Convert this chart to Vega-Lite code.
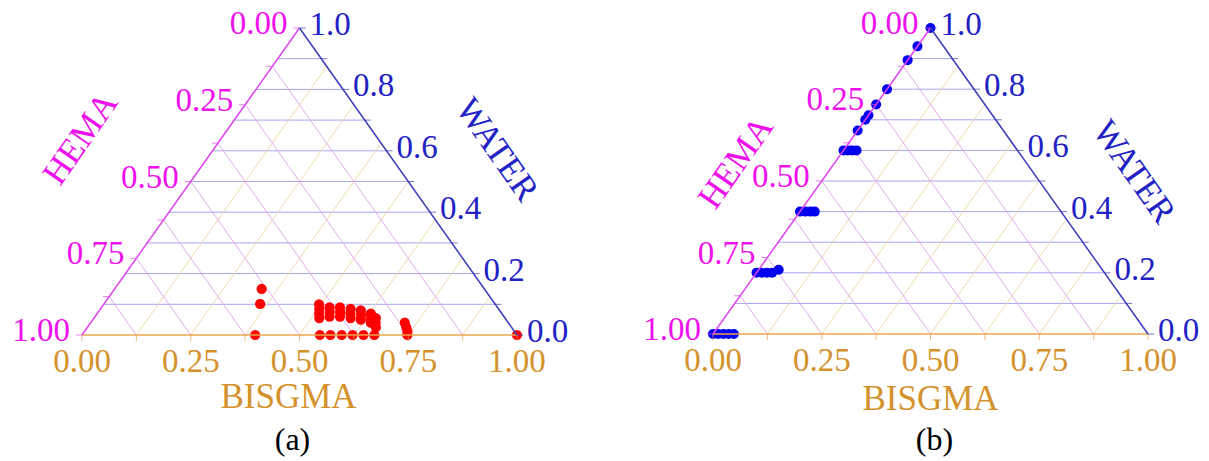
{
  "$schema": "https://vega.github.io/schema/vega-lite/v6.json",
  "padding": 0,
  "spacing": 0,
  "bounds": "flush",
  "config": {"view": {"stroke": null}, "text": {"font": "Liberation Serif"}},
  "datasets": {
    "grid": [
      {"set": "WATER", "b1": 0, "w1": 0.1, "b2": 0.9, "w2": 0.1},
      {"set": "WATER", "b1": 0, "w1": 0.2, "b2": 0.8, "w2": 0.2},
      {"set": "WATER", "b1": 0, "w1": 0.3, "b2": 0.7, "w2": 0.3},
      {"set": "WATER", "b1": 0, "w1": 0.4, "b2": 0.6, "w2": 0.4},
      {"set": "WATER", "b1": 0, "w1": 0.5, "b2": 0.5, "w2": 0.5},
      {"set": "WATER", "b1": 0, "w1": 0.6, "b2": 0.4, "w2": 0.6},
      {"set": "WATER", "b1": 0, "w1": 0.7, "b2": 0.3, "w2": 0.7},
      {"set": "WATER", "b1": 0, "w1": 0.8, "b2": 0.2, "w2": 0.8},
      {"set": "WATER", "b1": 0, "w1": 0.9, "b2": 0.1, "w2": 0.9},
      {"set": "BISGMA", "b1": 0.125, "w1": 0, "b2": 0.125, "w2": 0.875},
      {"set": "BISGMA", "b1": 0.25, "w1": 0, "b2": 0.25, "w2": 0.75},
      {"set": "BISGMA", "b1": 0.375, "w1": 0, "b2": 0.375, "w2": 0.625},
      {"set": "BISGMA", "b1": 0.5, "w1": 0, "b2": 0.5, "w2": 0.5},
      {"set": "BISGMA", "b1": 0.625, "w1": 0, "b2": 0.625, "w2": 0.375},
      {"set": "BISGMA", "b1": 0.75, "w1": 0, "b2": 0.75, "w2": 0.25},
      {"set": "BISGMA", "b1": 0.875, "w1": 0, "b2": 0.875, "w2": 0.125},
      {"set": "HEMA", "b1": 0.875, "w1": 0, "b2": 0, "w2": 0.875},
      {"set": "HEMA", "b1": 0.75, "w1": 0, "b2": 0, "w2": 0.75},
      {"set": "HEMA", "b1": 0.625, "w1": 0, "b2": 0, "w2": 0.625},
      {"set": "HEMA", "b1": 0.5, "w1": 0, "b2": 0, "w2": 0.5},
      {"set": "HEMA", "b1": 0.375, "w1": 0, "b2": 0, "w2": 0.375},
      {"set": "HEMA", "b1": 0.25, "w1": 0, "b2": 0, "w2": 0.25},
      {"set": "HEMA", "b1": 0.125, "w1": 0, "b2": 0, "w2": 0.125}
    ],
    "edges": [
      {"set": "BISGMA", "b1": 0, "w1": 0, "b2": 1, "w2": 0},
      {"set": "HEMA", "b1": 0, "w1": 0, "b2": 0, "w2": 1},
      {"set": "WATER", "b1": 1, "w1": 0, "b2": 0, "w2": 1}
    ],
    "ticks": [
      {"set": "BISGMA", "b": 0, "w": 0}, {"set": "BISGMA", "b": 0.125, "w": 0},
      {"set": "BISGMA", "b": 0.25, "w": 0}, {"set": "BISGMA", "b": 0.375, "w": 0},
      {"set": "BISGMA", "b": 0.5, "w": 0}, {"set": "BISGMA", "b": 0.625, "w": 0},
      {"set": "BISGMA", "b": 0.75, "w": 0}, {"set": "BISGMA", "b": 0.875, "w": 0},
      {"set": "BISGMA", "b": 1, "w": 0},
      {"set": "HEMA", "b": 0, "w": 1}, {"set": "HEMA", "b": 0, "w": 0.875},
      {"set": "HEMA", "b": 0, "w": 0.75}, {"set": "HEMA", "b": 0, "w": 0.625},
      {"set": "HEMA", "b": 0, "w": 0.5}, {"set": "HEMA", "b": 0, "w": 0.375},
      {"set": "HEMA", "b": 0, "w": 0.25}, {"set": "HEMA", "b": 0, "w": 0.125},
      {"set": "HEMA", "b": 0, "w": 0},
      {"set": "WATER", "b": 1, "w": 0}, {"set": "WATER", "b": 0.9, "w": 0.1},
      {"set": "WATER", "b": 0.8, "w": 0.2}, {"set": "WATER", "b": 0.7, "w": 0.3},
      {"set": "WATER", "b": 0.6, "w": 0.4}, {"set": "WATER", "b": 0.5, "w": 0.5},
      {"set": "WATER", "b": 0.4, "w": 0.6}, {"set": "WATER", "b": 0.3, "w": 0.7},
      {"set": "WATER", "b": 0.2, "w": 0.8}, {"set": "WATER", "b": 0.1, "w": 0.9},
      {"set": "WATER", "b": 0, "w": 1}
    ],
    "labels": [
      {"set": "BISGMA", "b": 0, "w": 0, "text": "0.00"},
      {"set": "BISGMA", "b": 0.25, "w": 0, "text": "0.25"},
      {"set": "BISGMA", "b": 0.5, "w": 0, "text": "0.50"},
      {"set": "BISGMA", "b": 0.75, "w": 0, "text": "0.75"},
      {"set": "BISGMA", "b": 1, "w": 0, "text": "1.00"},
      {"set": "HEMA", "b": 0, "w": 1, "text": "0.00"},
      {"set": "HEMA", "b": 0, "w": 0.75, "text": "0.25"},
      {"set": "HEMA", "b": 0, "w": 0.5, "text": "0.50"},
      {"set": "HEMA", "b": 0, "w": 0.25, "text": "0.75"},
      {"set": "HEMA", "b": 0, "w": 0, "text": "1.00"},
      {"set": "WATER", "b": 1, "w": 0, "text": "0.0"},
      {"set": "WATER", "b": 0.8, "w": 0.2, "text": "0.2"},
      {"set": "WATER", "b": 0.6, "w": 0.4, "text": "0.4"},
      {"set": "WATER", "b": 0.4, "w": 0.6, "text": "0.6"},
      {"set": "WATER", "b": 0.2, "w": 0.8, "text": "0.8"},
      {"set": "WATER", "b": 0, "w": 1, "text": "1.0"}
    ],
    "titles": [
      {"set": "BISGMA", "b": 0.5, "w": 0, "text": "BISGMA"},
      {"set": "HEMA", "b": 0, "w": 0.5, "text": "HEMA"},
      {"set": "WATER", "b": 0.5, "w": 0.5, "text": "WATER"}
    ],
    "captions": [
      {"panel": "a", "b": 0.5, "w": 0, "text": "(a)"},
      {"panel": "b", "b": 0.5, "w": 0, "text": "(b)"}
    ],
    "points": [
      {"panel": "a", "BISGMA": 0.338, "HEMA": 0.512, "WATER": 0.15},
      {"panel": "a", "BISGMA": 0.359, "HEMA": 0.54, "WATER": 0.101},
      {"panel": "a", "BISGMA": 0.398, "HEMA": 0.602, "WATER": 0},
      {"panel": "a", "BISGMA": 0.547, "HEMA": 0.453, "WATER": 0},
      {"panel": "a", "BISGMA": 0.571, "HEMA": 0.429, "WATER": 0},
      {"panel": "a", "BISGMA": 0.597, "HEMA": 0.403, "WATER": 0},
      {"panel": "a", "BISGMA": 0.622, "HEMA": 0.378, "WATER": 0},
      {"panel": "a", "BISGMA": 0.647, "HEMA": 0.353, "WATER": 0},
      {"panel": "a", "BISGMA": 0.672, "HEMA": 0.328, "WATER": 0},
      {"panel": "a", "BISGMA": 0.495, "HEMA": 0.405, "WATER": 0.1},
      {"panel": "a", "BISGMA": 0.503, "HEMA": 0.412, "WATER": 0.085},
      {"panel": "a", "BISGMA": 0.51, "HEMA": 0.42, "WATER": 0.07},
      {"panel": "a", "BISGMA": 0.518, "HEMA": 0.427, "WATER": 0.055},
      {"panel": "a", "BISGMA": 0.524, "HEMA": 0.386, "WATER": 0.09},
      {"panel": "a", "BISGMA": 0.532, "HEMA": 0.393, "WATER": 0.075},
      {"panel": "a", "BISGMA": 0.539, "HEMA": 0.401, "WATER": 0.06},
      {"panel": "a", "BISGMA": 0.548, "HEMA": 0.362, "WATER": 0.09},
      {"panel": "a", "BISGMA": 0.556, "HEMA": 0.369, "WATER": 0.075},
      {"panel": "a", "BISGMA": 0.563, "HEMA": 0.377, "WATER": 0.06},
      {"panel": "a", "BISGMA": 0.575, "HEMA": 0.34, "WATER": 0.085},
      {"panel": "a", "BISGMA": 0.582, "HEMA": 0.348, "WATER": 0.07},
      {"panel": "a", "BISGMA": 0.59, "HEMA": 0.355, "WATER": 0.055},
      {"panel": "a", "BISGMA": 0.601, "HEMA": 0.319, "WATER": 0.08},
      {"panel": "a", "BISGMA": 0.609, "HEMA": 0.326, "WATER": 0.065},
      {"panel": "a", "BISGMA": 0.616, "HEMA": 0.334, "WATER": 0.05},
      {"panel": "a", "BISGMA": 0.629, "HEMA": 0.301, "WATER": 0.07},
      {"panel": "a", "BISGMA": 0.637, "HEMA": 0.308, "WATER": 0.055},
      {"panel": "a", "BISGMA": 0.644, "HEMA": 0.316, "WATER": 0.04},
      {"panel": "a", "BISGMA": 0.648, "HEMA": 0.297, "WATER": 0.055},
      {"panel": "a", "BISGMA": 0.655, "HEMA": 0.305, "WATER": 0.04},
      {"panel": "a", "BISGMA": 0.663, "HEMA": 0.312, "WATER": 0.025},
      {"panel": "a", "BISGMA": 0.722, "HEMA": 0.238, "WATER": 0.04},
      {"panel": "a", "BISGMA": 0.733, "HEMA": 0.242, "WATER": 0.025},
      {"panel": "a", "BISGMA": 0.742, "HEMA": 0.246, "WATER": 0.012},
      {"panel": "a", "BISGMA": 0.748, "HEMA": 0.252, "WATER": 0},
      {"panel": "a", "BISGMA": 1, "HEMA": 0, "WATER": 0},
      {"panel": "b", "BISGMA": 0, "HEMA": 0, "WATER": 1},
      {"panel": "b", "BISGMA": 0, "HEMA": 0.06, "WATER": 0.94},
      {"panel": "b", "BISGMA": 0, "HEMA": 0.105, "WATER": 0.895},
      {"panel": "b", "BISGMA": 0, "HEMA": 0.2, "WATER": 0.8},
      {"panel": "b", "BISGMA": 0, "HEMA": 0.25, "WATER": 0.75},
      {"panel": "b", "BISGMA": 0, "HEMA": 0.285, "WATER": 0.715},
      {"panel": "b", "BISGMA": 0, "HEMA": 0.3, "WATER": 0.7},
      {"panel": "b", "BISGMA": 0, "HEMA": 0.335, "WATER": 0.665},
      {"panel": "b", "BISGMA": 0, "HEMA": 0.4, "WATER": 0.6},
      {"panel": "b", "BISGMA": 0.01, "HEMA": 0.39, "WATER": 0.6},
      {"panel": "b", "BISGMA": 0.02, "HEMA": 0.38, "WATER": 0.6},
      {"panel": "b", "BISGMA": 0.03, "HEMA": 0.37, "WATER": 0.6},
      {"panel": "b", "BISGMA": 0, "HEMA": 0.6, "WATER": 0.4},
      {"panel": "b", "BISGMA": 0.012, "HEMA": 0.588, "WATER": 0.4},
      {"panel": "b", "BISGMA": 0.024, "HEMA": 0.576, "WATER": 0.4},
      {"panel": "b", "BISGMA": 0.034, "HEMA": 0.566, "WATER": 0.4},
      {"panel": "b", "BISGMA": 0, "HEMA": 0.8, "WATER": 0.2},
      {"panel": "b", "BISGMA": 0.012, "HEMA": 0.788, "WATER": 0.2},
      {"panel": "b", "BISGMA": 0.024, "HEMA": 0.776, "WATER": 0.2},
      {"panel": "b", "BISGMA": 0.036, "HEMA": 0.764, "WATER": 0.2},
      {"panel": "b", "BISGMA": 0.046, "HEMA": 0.744, "WATER": 0.21},
      {"panel": "b", "BISGMA": 0, "HEMA": 1, "WATER": 0},
      {"panel": "b", "BISGMA": 0.012, "HEMA": 0.988, "WATER": 0},
      {"panel": "b", "BISGMA": 0.024, "HEMA": 0.976, "WATER": 0},
      {"panel": "b", "BISGMA": 0.036, "HEMA": 0.964, "WATER": 0},
      {"panel": "b", "BISGMA": 0.048, "HEMA": 0.952, "WATER": 0}
    ]
  },
  "hconcat": [
    {
      "width": 605,
      "height": 461,
      "encoding": {
        "x": {"field": "px", "type": "quantitative", "axis": null,
              "scale": {"domain": [-0.18851, 1.2023], "nice": false, "zero": false}},
        "y": {"field": "py", "type": "quantitative", "axis": null,
              "scale": {"domain": [-0.41042, 1.09121], "nice": false, "zero": false}}
      },
      "resolve": {"scale": {"color": "independent"}},
      "layer": [
        {
          "data": {"name": "grid"},
          "transform": [
            {"calculate": "datum.b1 + datum.w1 / 2", "as": "px"},
            {"calculate": "datum.w1", "as": "py"},
            {"calculate": "datum.b2 + datum.w2 / 2", "as": "px2"},
            {"calculate": "datum.w2", "as": "py2"}
          ],
          "mark": {"type": "rule", "strokeWidth": 1},
          "encoding": {
            "x2": {"field": "px2"}, "y2": {"field": "py2"},
            "color": {"field": "set", "type": "nominal", "legend": null,
                      "scale": {"domain": ["BISGMA", "HEMA", "WATER"], "range": ["#efd8ac", "#e2aaee", "#a6a6ee"]}}
          }
        },
        {
          "data": {"name": "points"},
          "transform": [
            {"filter": "datum.panel === 'a'"},
            {"calculate": "datum.BISGMA + datum.WATER / 2", "as": "px"},
            {"calculate": "datum.WATER", "as": "py"}
          ],
          "mark": {"type": "circle", "size": 105, "opacity": 1, "color": "#ff0000"}
        },
        {
          "data": {"name": "edges"},
          "transform": [
            {"calculate": "datum.b1 + datum.w1 / 2", "as": "px"},
            {"calculate": "datum.w1", "as": "py"},
            {"calculate": "datum.b2 + datum.w2 / 2", "as": "px2"},
            {"calculate": "datum.w2", "as": "py2"}
          ],
          "mark": {"type": "rule", "strokeWidth": 1.5},
          "encoding": {
            "x2": {"field": "px2"}, "y2": {"field": "py2"},
            "color": {"field": "set", "type": "nominal", "legend": null,
                      "scale": {"domain": ["BISGMA", "HEMA", "WATER"], "range": ["#eaa64c", "#dd44ee", "#3a3ab8"]}}
          }
        },
        {
          "data": {"name": "ticks"},
          "transform": [
            {"filter": "datum.set === 'BISGMA'"},
            {"calculate": "datum.b + datum.w / 2", "as": "px"},
            {"calculate": "datum.w", "as": "py"}
          ],
          "mark": {"type": "tick", "orient": "vertical", "size": 6, "thickness": 1, "yOffset": 3, "color": "#e0a048"}
        },
        {
          "data": {"name": "ticks"},
          "transform": [
            {"filter": "datum.set === 'HEMA'"},
            {"calculate": "datum.b + datum.w / 2", "as": "px"},
            {"calculate": "datum.w", "as": "py"}
          ],
          "mark": {"type": "tick", "orient": "horizontal", "size": 6, "thickness": 1, "xOffset": -3, "color": "#dd44ee"}
        },
        {
          "data": {"name": "ticks"},
          "transform": [
            {"filter": "datum.set === 'WATER'"},
            {"calculate": "datum.b + datum.w / 2", "as": "px"},
            {"calculate": "datum.w", "as": "py"}
          ],
          "mark": {"type": "tick", "orient": "horizontal", "size": 6, "thickness": 1, "xOffset": 3, "color": "#3a3ab8"}
        },
        {
          "data": {"name": "labels"},
          "transform": [
            {"filter": "datum.set === 'BISGMA'"},
            {"calculate": "datum.b + datum.w / 2", "as": "px"},
            {"calculate": "datum.w", "as": "py"}
          ],
          "mark": {"type": "text", "fontSize": 33, "align": "center", "baseline": "middle", "dy": 27, "color": "#d4922c"},
          "encoding": {"text": {"field": "text"}}
        },
        {
          "data": {"name": "labels"},
          "transform": [
            {"filter": "datum.set === 'HEMA'"},
            {"calculate": "datum.b + datum.w / 2", "as": "px"},
            {"calculate": "datum.w", "as": "py"}
          ],
          "mark": {"type": "text", "fontSize": 33, "align": "right", "baseline": "middle", "dx": -12, "dy": -4, "color": "#ee11ee"},
          "encoding": {"text": {"field": "text"}}
        },
        {
          "data": {"name": "labels"},
          "transform": [
            {"filter": "datum.set === 'WATER'"},
            {"calculate": "datum.b + datum.w / 2", "as": "px"},
            {"calculate": "datum.w", "as": "py"}
          ],
          "mark": {"type": "text", "fontSize": 33, "align": "left", "baseline": "middle", "dx": 10, "dy": -3, "color": "#2222c4"},
          "encoding": {"text": {"field": "text"}}
        },
        {
          "data": {"name": "titles"},
          "transform": [
            {"filter": "datum.set === 'BISGMA'"},
            {"calculate": "datum.b + datum.w / 2", "as": "px"},
            {"calculate": "datum.w", "as": "py"}
          ],
          "mark": {"type": "text", "fontSize": 35, "align": "center", "baseline": "middle", "dx": -11, "dy": 62, "color": "#d4922c"},
          "encoding": {"text": {"field": "text"}}
        },
        {
          "data": {"name": "titles"},
          "transform": [
            {"filter": "datum.set === 'HEMA'"},
            {"calculate": "datum.b + datum.w / 2", "as": "px"},
            {"calculate": "datum.w", "as": "py"}
          ],
          "mark": {"type": "text", "fontSize": 35, "align": "center", "baseline": "middle", "angle": 305, "dx": -28, "dy": -115, "color": "#ee11ee"},
          "encoding": {"text": {"field": "text"}}
        },
        {
          "data": {"name": "titles"},
          "transform": [
            {"filter": "datum.set === 'WATER'"},
            {"calculate": "datum.b + datum.w / 2", "as": "px"},
            {"calculate": "datum.w", "as": "py"}
          ],
          "mark": {"type": "text", "fontSize": 35, "align": "center", "baseline": "middle", "angle": 55, "dx": 25, "dy": -91, "color": "#2222c4"},
          "encoding": {"text": {"field": "text"}}
        },
        {
          "data": {"name": "captions"},
          "transform": [
            {"filter": "datum.panel === 'a'"},
            {"calculate": "datum.b + datum.w / 2", "as": "px"},
            {"calculate": "datum.w", "as": "py"}
          ],
          "mark": {"type": "text", "fontSize": 32, "align": "center", "baseline": "middle", "dx": -7, "dy": 105, "color": "#000000"},
          "encoding": {"text": {"field": "text"}}
        }
      ]
    },
    {
      "width": 604,
      "height": 461,
      "encoding": {
        "x": {"field": "px", "type": "quantitative", "axis": null,
              "scale": {"domain": [-0.24828, 1.14023], "nice": false, "zero": false}},
        "y": {"field": "py", "type": "quantitative", "axis": null,
              "scale": {"domain": [-0.41503, 1.0915], "nice": false, "zero": false}}
      },
      "resolve": {"scale": {"color": "independent"}},
      "layer": [
        {
          "data": {"name": "grid"},
          "transform": [
            {"calculate": "datum.b1 + datum.w1 / 2", "as": "px"},
            {"calculate": "datum.w1", "as": "py"},
            {"calculate": "datum.b2 + datum.w2 / 2", "as": "px2"},
            {"calculate": "datum.w2", "as": "py2"}
          ],
          "mark": {"type": "rule", "strokeWidth": 1},
          "encoding": {
            "x2": {"field": "px2"}, "y2": {"field": "py2"},
            "color": {"field": "set", "type": "nominal", "legend": null,
                      "scale": {"domain": ["BISGMA", "HEMA", "WATER"], "range": ["#efd8ac", "#e2aaee", "#a6a6ee"]}}
          }
        },
        {
          "data": {"name": "points"},
          "transform": [
            {"filter": "datum.panel === 'b'"},
            {"calculate": "datum.BISGMA + datum.WATER / 2", "as": "px"},
            {"calculate": "datum.WATER", "as": "py"}
          ],
          "mark": {"type": "circle", "size": 100, "opacity": 1, "color": "#0000ee"}
        },
        {
          "data": {"name": "edges"},
          "transform": [
            {"calculate": "datum.b1 + datum.w1 / 2", "as": "px"},
            {"calculate": "datum.w1", "as": "py"},
            {"calculate": "datum.b2 + datum.w2 / 2", "as": "px2"},
            {"calculate": "datum.w2", "as": "py2"}
          ],
          "mark": {"type": "rule", "strokeWidth": 1.5},
          "encoding": {
            "x2": {"field": "px2"}, "y2": {"field": "py2"},
            "color": {"field": "set", "type": "nominal", "legend": null,
                      "scale": {"domain": ["BISGMA", "HEMA", "WATER"], "range": ["#eaa64c", "#dd44ee", "#3a3ab8"]}}
          }
        },
        {
          "data": {"name": "ticks"},
          "transform": [
            {"filter": "datum.set === 'BISGMA'"},
            {"calculate": "datum.b + datum.w / 2", "as": "px"},
            {"calculate": "datum.w", "as": "py"}
          ],
          "mark": {"type": "tick", "orient": "vertical", "size": 6, "thickness": 1, "yOffset": 3, "color": "#e0a048"}
        },
        {
          "data": {"name": "ticks"},
          "transform": [
            {"filter": "datum.set === 'HEMA'"},
            {"calculate": "datum.b + datum.w / 2", "as": "px"},
            {"calculate": "datum.w", "as": "py"}
          ],
          "mark": {"type": "tick", "orient": "horizontal", "size": 6, "thickness": 1, "xOffset": -3, "color": "#dd44ee"}
        },
        {
          "data": {"name": "ticks"},
          "transform": [
            {"filter": "datum.set === 'WATER'"},
            {"calculate": "datum.b + datum.w / 2", "as": "px"},
            {"calculate": "datum.w", "as": "py"}
          ],
          "mark": {"type": "tick", "orient": "horizontal", "size": 6, "thickness": 1, "xOffset": 3, "color": "#3a3ab8"}
        },
        {
          "data": {"name": "labels"},
          "transform": [
            {"filter": "datum.set === 'BISGMA'"},
            {"calculate": "datum.b + datum.w / 2", "as": "px"},
            {"calculate": "datum.w", "as": "py"}
          ],
          "mark": {"type": "text", "fontSize": 33, "align": "center", "baseline": "middle", "dy": 27, "color": "#d4922c"},
          "encoding": {"text": {"field": "text"}}
        },
        {
          "data": {"name": "labels"},
          "transform": [
            {"filter": "datum.set === 'HEMA'"},
            {"calculate": "datum.b + datum.w / 2", "as": "px"},
            {"calculate": "datum.w", "as": "py"}
          ],
          "mark": {"type": "text", "fontSize": 33, "align": "right", "baseline": "middle", "dx": -12, "dy": -4, "color": "#ee11ee"},
          "encoding": {"text": {"field": "text"}}
        },
        {
          "data": {"name": "labels"},
          "transform": [
            {"filter": "datum.set === 'WATER'"},
            {"calculate": "datum.b + datum.w / 2", "as": "px"},
            {"calculate": "datum.w", "as": "py"}
          ],
          "mark": {"type": "text", "fontSize": 33, "align": "left", "baseline": "middle", "dx": 10, "dy": -3, "color": "#2222c4"},
          "encoding": {"text": {"field": "text"}}
        },
        {
          "data": {"name": "titles"},
          "transform": [
            {"filter": "datum.set === 'BISGMA'"},
            {"calculate": "datum.b + datum.w / 2", "as": "px"},
            {"calculate": "datum.w", "as": "py"}
          ],
          "mark": {"type": "text", "fontSize": 35, "align": "center", "baseline": "middle", "dx": 0, "dy": 65, "color": "#d4922c"},
          "encoding": {"text": {"field": "text"}}
        },
        {
          "data": {"name": "titles"},
          "transform": [
            {"filter": "datum.set === 'HEMA'"},
            {"calculate": "datum.b + datum.w / 2", "as": "px"},
            {"calculate": "datum.w", "as": "py"}
          ],
          "mark": {"type": "text", "fontSize": 35, "align": "center", "baseline": "middle", "angle": 305, "dx": -34, "dy": -81, "color": "#ee11ee"},
          "encoding": {"text": {"field": "text"}}
        },
        {
          "data": {"name": "titles"},
          "transform": [
            {"filter": "datum.set === 'WATER'"},
            {"calculate": "datum.b + datum.w / 2", "as": "px"},
            {"calculate": "datum.w", "as": "py"}
          ],
          "mark": {"type": "text", "fontSize": 35, "align": "center", "baseline": "middle", "angle": 55, "dx": 47, "dy": -83, "color": "#2222c4"},
          "encoding": {"text": {"field": "text"}}
        },
        {
          "data": {"name": "captions"},
          "transform": [
            {"filter": "datum.panel === 'b'"},
            {"calculate": "datum.b + datum.w / 2", "as": "px"},
            {"calculate": "datum.w", "as": "py"}
          ],
          "mark": {"type": "text", "fontSize": 32, "align": "center", "baseline": "middle", "dx": 4, "dy": 106, "color": "#000000"},
          "encoding": {"text": {"field": "text"}}
        }
      ]
    }
  ]
}
